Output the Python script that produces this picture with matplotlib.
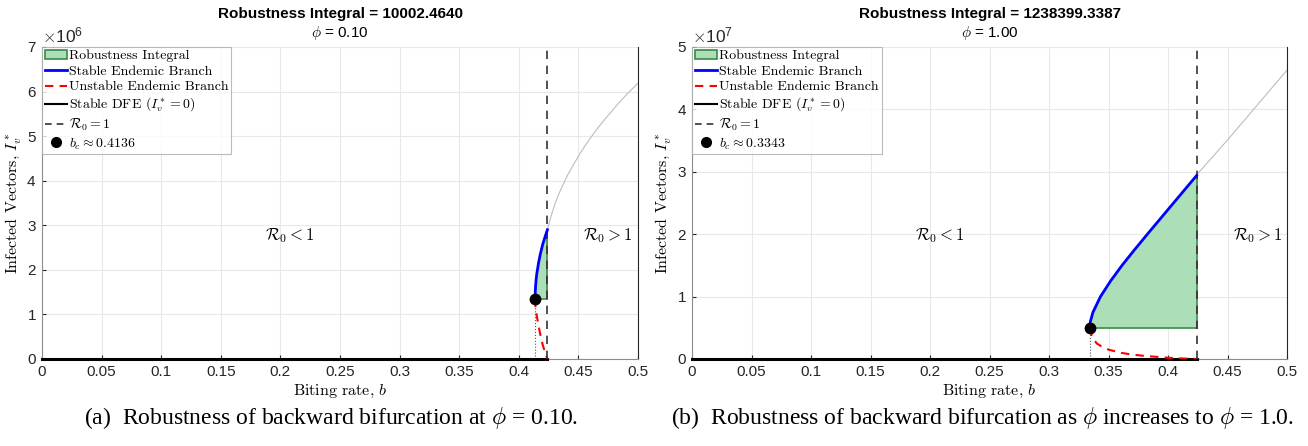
import matplotlib
matplotlib.use("Agg")
import matplotlib.pyplot as plt
import numpy as np
from matplotlib.patches import Patch
from matplotlib.lines import Line2D

plt.rcParams['font.family'] = ['Liberation Sans', 'DejaVu Sans']
plt.rcParams['mathtext.fontset'] = 'cm'
plt.rcParams['axes.formatter.use_mathtext'] = True

# ---------------- data ----------------
x_ticks = [0, 0.05, 0.1, 0.15, 0.2, 0.25, 0.3, 0.35, 0.4, 0.45, 0.5]
x_tick_labels = ["0", "0.05", "0.1", "0.15", "0.2", "0.25", "0.3", "0.35", "0.4", "0.45", "0.5"]

b_R0 = 0.424  # R0 = 1 threshold

# panel (a): phi = 0.10
a_phi = "0.10"
a_integral = "10002.4640"
a_bc = 0.4136
a_Ic = 1.35e6
a_stable_b = [0.4136, 0.4138, 0.4140, 0.4145, 0.4150, 0.4165, 0.4180, 0.4200, 0.4220, 0.4240]
a_stable_I = [1.35e6, 1.52e6, 1.62e6, 1.78e6, 1.90e6, 2.15e6, 2.35e6, 2.57e6, 2.74e6, 2.90e6]
a_unstable_b = [0.4136, 0.4140, 0.4150, 0.4165, 0.4180, 0.4200, 0.4220, 0.4240]
a_unstable_I = [1.35e6, 1.15e6, 0.98e6, 0.75e6, 0.55e6, 0.32e6, 0.15e6, 0.0]
a_cont_b = [0.424, 0.426, 0.428, 0.431, 0.434, 0.4373, 0.441, 0.445, 0.4513, 0.458,
            0.4645, 0.4709, 0.478, 0.485, 0.4925, 0.500]
a_cont_I = [2.90e6, 3.11e6, 3.29e6, 3.53e6, 3.73e6, 3.92e6, 4.13e6, 4.32e6, 4.61e6, 4.88e6,
            5.12e6, 5.34e6, 5.56e6, 5.78e6, 5.99e6, 6.19e6]
a_ylim = 7e6

# panel (b): phi = 1.00
b_phi = "1.00"
b_integral = "1238399.3387"
b_bc = 0.3343
b_Ic = 0.50e7
b_stable_b = [0.3343, 0.3344, 0.3347, 0.3369, 0.3432, 0.3517, 0.3613, 0.3718, 0.3826,
              0.3936, 0.4046, 0.4156, 0.4240]
b_stable_I = [0.50e7, 0.55e7, 0.60e7, 0.75e7, 1.00e7, 1.25e7, 1.50e7, 1.75e7, 2.00e7,
              2.25e7, 2.50e7, 2.75e7, 2.94e7]
b_unstable_b = [0.3343, 0.3360, 0.3400, 0.3450, 0.3500, 0.3600, 0.3700, 0.3800, 0.3900, 0.4000, 0.4100, 0.4240]
b_unstable_I = [0.50e7, 0.36e7, 0.25e7, 0.19e7, 0.15e7, 0.10e7, 0.07e7, 0.05e7, 0.035e7, 0.02e7, 0.01e7, 0.0]
b_cont_b = [0.424, 0.450, 0.475, 0.500]
b_cont_I = [2.95e7, 3.51e7, 4.07e7, 4.63e7]
b_ylim = 5e7

captions = [r"(a)  Robustness of backward bifurcation at $\phi$ = 0.10.",
            r"(b)  Robustness of backward bifurcation as $\phi$ increases to $\phi$ = 1.0."]

# ---------------- plotting ----------------
fig = plt.figure(figsize=(13.08, 4.46), dpi=100)
positions = [[0.0321, 0.1951, 0.4557, 0.6996], [0.5291, 0.1951, 0.4549, 0.6996]]
caption_x = [0.253, 0.751]

panels = [
    (a_phi, a_integral, a_bc, a_Ic, a_stable_b, a_stable_I, a_unstable_b, a_unstable_I,
     a_cont_b, a_cont_I, a_ylim),
    (b_phi, b_integral, b_bc, b_Ic, b_stable_b, b_stable_I, b_unstable_b, b_unstable_I,
     b_cont_b, b_cont_I, b_ylim),
]

fill_face = '#acdfb8'
fill_edge = '#3a8a45'
cm_font = {'family': 'cmr10'}

for k, (phi, integ, bc, Ic, sb, sI, ub, uI, cb, cI, ylim) in enumerate(panels):
    ax = fig.add_axes(positions[k])
    ax.set_xlim(0, 0.5)
    ax.set_ylim(0, ylim)
    ax.grid(True, color='#e8e8e8', linewidth=0.8)
    ax.set_axisbelow(True)

    # gray continuation
    ax.plot(cb, cI, color='#bdbdbd', lw=0.8, zorder=2)
    # robustness fill
    ax.fill_between(sb, [Ic] * len(sb), sI, facecolor=fill_face, edgecolor='none', zorder=2)
    ax.plot([bc, b_R0], [Ic, Ic], color=fill_edge, lw=1.2, zorder=3)
    ax.plot([b_R0, b_R0], [Ic, sI[-1]], color=fill_edge, lw=1.2, zorder=3)
    # DFE
    ax.plot([0, b_R0], [0, 0], color='black', lw=2.2, zorder=4, clip_on=False)
    # R0 = 1 line
    ax.axvline(b_R0, color='#333333', lw=1.2, ls=(0, (5, 4)), zorder=5)
    # dotted vertical at bc
    ax.plot([bc, bc], [0, Ic], color='#555555', lw=0.8, ls=':', zorder=3)
    # branches
    ax.plot(ub, uI, color='red', lw=1.5, ls=(0, (4, 3)), zorder=4)
    ax.plot(sb, sI, color='blue', lw=2.0, zorder=5)
    ax.plot([bc], [Ic], 'o', color='black', ms=7.5, zorder=6)

    ax.text(0.208, 0.394 * ylim, r"$\mathcal{R}_0 < 1$", fontsize=12, ha='center', va='center')
    ax.text(0.475, 0.394 * ylim, r"$\mathcal{R}_0 > 1$", fontsize=12, ha='center', va='center')

    ax.set_xticks(x_ticks)
    ax.set_xticklabels(x_tick_labels)
    ax.set_yticks(np.arange(0, ylim / 10 ** int(np.log10(ylim)) + 1) * 10 ** int(np.log10(ylim)))
    ax.tick_params(direction='in', length=3, labelsize=11, colors='#262626', pad=4)
    ax.yaxis.get_offset_text().set_fontsize(12.5)

    ax.spines['top'].set_visible(False)
    ax.spines['right'].set_color('#262626')
    ax.spines['left'].set_color('#8c8c8c')
    ax.spines['bottom'].set_color('#8c8c8c')

    ax.set_xlabel(r"Biting rate, $b$", fontdict=dict(cm_font, size=11.5), labelpad=3)
    ax.set_ylabel(r"Infected Vectors, $I_v^*$", fontdict=dict(cm_font, size=11.5), labelpad=2)

    ax.text(0.5, 1.105, f"Robustness Integral = {integ}", transform=ax.transAxes,
            ha='center', va='center', fontsize=11, fontweight='bold')
    ax.text(0.5, 1.045, r"$\phi$" + f" = {phi}", transform=ax.transAxes,
            ha='center', va='center', fontsize=11)

    handles = [
        Patch(facecolor=fill_face, edgecolor=fill_edge, lw=1.2),
        Line2D([], [], color='blue', lw=2.0),
        Line2D([], [], color='red', lw=1.5, ls=(0, (4, 3))),
        Line2D([], [], color='black', lw=1.5),
        Line2D([], [], color='#333333', lw=1.2, ls=(0, (4, 3))),
        Line2D([], [], color='black', marker='o', ls='none', ms=7),
    ]
    labels = ["Robustness Integral", "Stable Endemic Branch", "Unstable Endemic Branch",
              r"Stable DFE ($I_v^*=0$)", r"$\mathcal{R}_0=1$", r"$b_c \approx $" + f"{bc:.4f}"]
    leg = ax.legend(handles, labels, loc='upper left', bbox_to_anchor=(0, 1), borderaxespad=0,
                    prop={'family': 'cmr10', 'size': 10}, frameon=True, fancybox=False,
                    edgecolor='#aaaaaa', handlelength=1.6, handletextpad=0.15, labelspacing=0.2,
                    borderpad=0.2)
    leg.get_frame().set_linewidth(0.8)
    leg.set_zorder(10)

    fig.text(caption_x[k], 0.063, captions[k], ha='center', va='center',
             fontsize=17, family='Liberation Serif')

fig.savefig("out.png", dpi=100)
